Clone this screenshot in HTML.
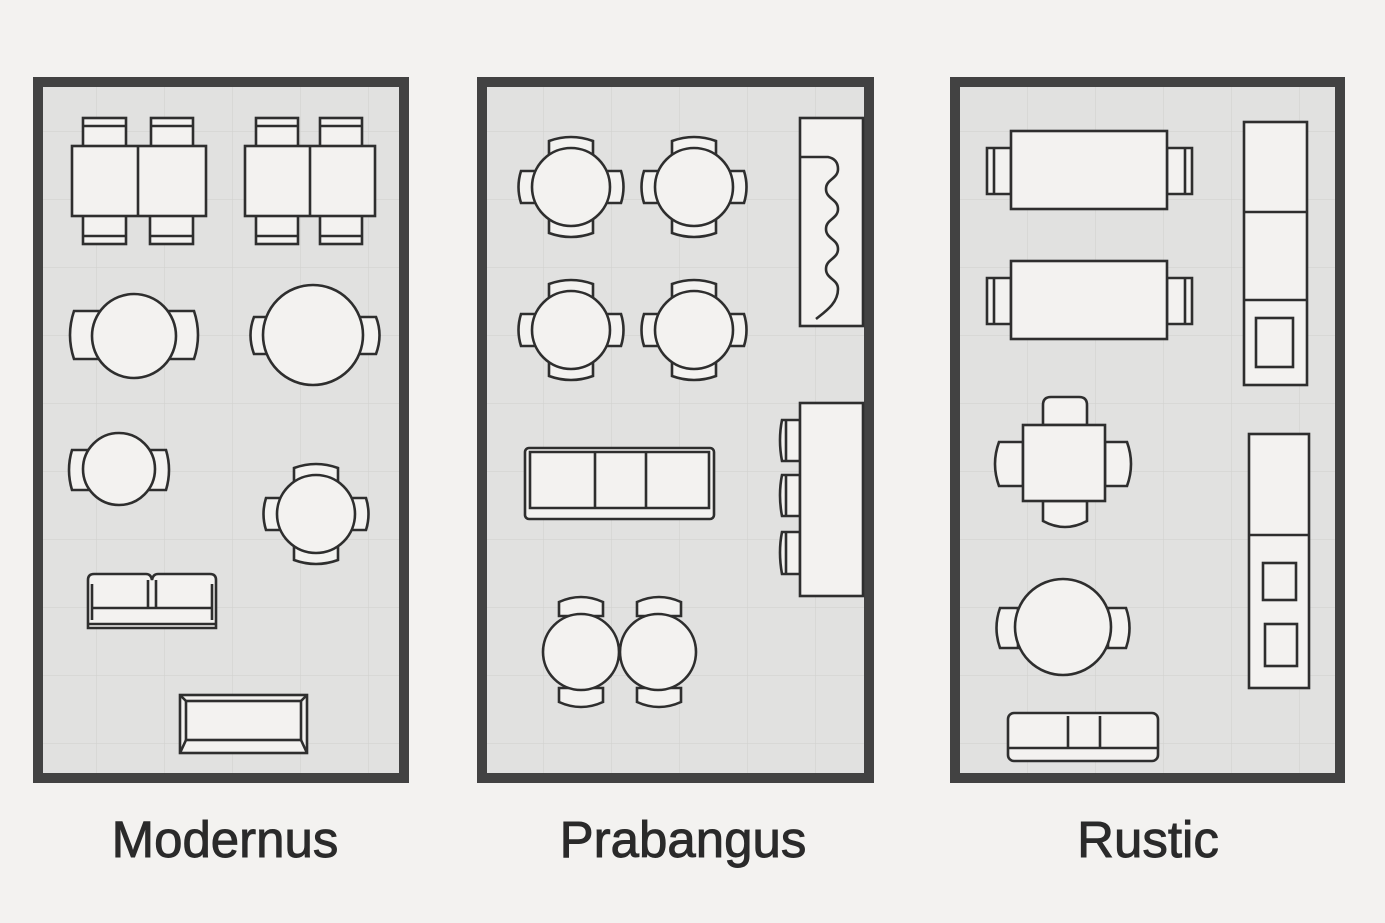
<!DOCTYPE html>
<html><head><meta charset="utf-8"><style>
html,body{margin:0;padding:0;background:#f3f2f0;}
svg{display:block}
text{font-family:"Liberation Sans",sans-serif;font-size:51px;fill:#2a2a2a;stroke:#2a2a2a;stroke-width:0.9px;text-anchor:middle;}
</style></head><body>
<svg width="1385" height="923" viewBox="0 0 1385 923" xmlns="http://www.w3.org/2000/svg">
<defs>
<pattern id="g1" x="29" y="64" width="68" height="68" patternUnits="userSpaceOnUse"><path d="M68,0V68H0" fill="none" stroke="#cfcfcd" stroke-width="1"/></pattern>
<pattern id="g2" x="476" y="64" width="68" height="68" patternUnits="userSpaceOnUse"><path d="M68,0V68H0" fill="none" stroke="#cfcfcd" stroke-width="1"/></pattern>
<pattern id="g3" x="960" y="64" width="68" height="68" patternUnits="userSpaceOnUse"><path d="M68,0V68H0" fill="none" stroke="#cfcfcd" stroke-width="1"/></pattern>
<g id="rt4">
<path d="M-22,-30 v-16 q22,-8 44,0 v16 z"/>
<path d="M-22,30 v16 q22,8 44,0 v-16 z"/>
<path d="M-30,-16 h-20 q-5,16 0,32 h20 z"/>
<path d="M30,-16 h20 q5,16 0,32 h-20 z"/>
<circle r="39"/>
</g>
</defs>
<g stroke="#2e2e2e" stroke-width="2.6" fill="#f3f2f0">
<rect x="38" y="82" width="366" height="696" fill="#e1e1e0" stroke="#424242" stroke-width="10"/>
<rect x="43" y="87" width="356" height="686" fill="url(#g1)" stroke="none"/>
<rect x="482" y="82" width="387" height="696" fill="#e1e1e0" stroke="#424242" stroke-width="10"/>
<rect x="487" y="87" width="377" height="686" fill="url(#g2)" stroke="none"/>
<rect x="955" y="82" width="385" height="696" fill="#e1e1e0" stroke="#424242" stroke-width="10"/>
<rect x="960" y="87" width="375" height="686" fill="url(#g3)" stroke="none"/>

<g>
<rect x="83" y="118" width="43" height="30"/><line x1="83" y1="126" x2="126" y2="126"/>
<rect x="151" y="118" width="42" height="30"/><line x1="151" y1="126" x2="193" y2="126"/>
<rect x="83" y="214" width="43" height="30"/><line x1="83" y1="236" x2="126" y2="236"/>
<rect x="150" y="214" width="43" height="30"/><line x1="150" y1="236" x2="193" y2="236"/>
<rect x="72" y="146" width="134" height="70"/><line x1="138" y1="146" x2="138" y2="216"/>
<rect x="256" y="118" width="42" height="30"/><line x1="256" y1="126" x2="298" y2="126"/>
<rect x="320" y="118" width="42" height="30"/><line x1="320" y1="126" x2="362" y2="126"/>
<rect x="256" y="214" width="42" height="30"/><line x1="256" y1="236" x2="298" y2="236"/>
<rect x="320" y="214" width="42" height="30"/><line x1="320" y1="236" x2="362" y2="236"/>
<rect x="245" y="146" width="130" height="70"/><line x1="310" y1="146" x2="310" y2="216"/>

<path d="M100,311 h-26 q-8,24 0,48 h26 z"/><path d="M168,311 h26 q8,24 0,48 h-26 z"/>
<circle cx="134" cy="336" r="42"/>
<path d="M270,317 h-16 q-7,18 0,37 h16 z"/><path d="M356,317 h20 q7,18 0,37 h-20 z"/>
<circle cx="313" cy="335" r="50"/>
<path d="M92,450 h-20 q-6,20 0,40 h20 z"/><path d="M146,450 h20 q6,20 0,40 h-20 z"/>
<circle cx="119" cy="469" r="36"/>
<use href="#rt4" transform="translate(316,514)"/>

<path d="M88,628 v-48 q0,-6 6,-6 h52 q5,0 6,6 v0 q1,-6 6,-6 h52 q6,0 6,6 v48 z"/>
<path d="M92,620 v-36 M212,620 v-36 M148,608 v-28 M156,608 v-28 M92,608 h120 M88,624 h128"/>
<rect x="180" y="695" width="127" height="58"/>
<rect x="186" y="701" width="115" height="39"/>
<path d="M180,695 l6,6 M307,695 l-6,6 M180,753 l6,-13 M307,753 l-6,-13"/>
</g>

<use href="#rt4" transform="translate(571,187)"/>
<use href="#rt4" transform="translate(694,187)"/>
<use href="#rt4" transform="translate(571,330)"/>
<use href="#rt4" transform="translate(694,330)"/>
<rect x="800" y="118" width="63" height="208"/>
<path d="M801,157 h27 q10,2 10,12 c0,10 -12,10 -12,20 c0,10 12,10 12,20 c0,10 -12,10 -12,20 c0,10 12,10 12,20 c0,10 -12,10 -12,20 c0,10 12,10 12,20 c0,14 -12,22 -22,30" fill="none"/>
<path d="M800,420 h-18 q-4,20 0,41 h18 z M786,420 v41"/>
<path d="M800,475 h-18 q-4,20 0,41 h18 z M786,475 v41"/>
<path d="M800,532 h-18 q-4,20 0,42 h18 z M786,532 v42"/>
<rect x="800" y="403" width="63" height="193"/>
<rect x="525" y="448" width="189" height="71" rx="4"/>
<path d="M530,452 h179 v56 h-179 z M595,452 v56 M646,452 v56"/>
<path d="M559,616 v-14 q22,-10 44,0 v14 z M559,688 v14 q22,10 44,0 v-14 z"/>
<path d="M637,616 v-14 q22,-10 44,0 v14 z M637,688 v14 q22,10 44,0 v-14 z"/>
<circle cx="581" cy="652" r="38"/>
<circle cx="658" cy="652" r="38"/>

<path d="M1011,148 h-24 v46 h24 z M994,148 v46"/><path d="M1167,148 h25 v46 h-25 z M1185,148 v46"/>
<rect x="1011" y="131" width="156" height="78"/>
<path d="M1011,278 h-24 v46 h24 z M994,278 v46"/><path d="M1167,278 h25 v46 h-25 z M1185,278 v46"/>
<rect x="1011" y="261" width="156" height="78"/>
<rect x="1244" y="122" width="63" height="263"/>
<path d="M1244,212 h63 M1244,300 h63"/>
<rect x="1256" y="318" width="37" height="49"/>
<path d="M1043,425 v-20 q0,-8 8,-8 h28 q8,0 8,8 v20 z"/>
<path d="M1043,501 v20 q22,12 44,0 v-20 z"/>
<path d="M1023,442 h-24 q-8,22 0,44 h24 z"/>
<path d="M1105,442 h22 q8,22 0,44 h-22 z"/>
<rect x="1023" y="425" width="82" height="76"/>
<path d="M1018,608 h-18 q-7,20 0,40 h18 z"/><path d="M1108,608 h18 q7,20 0,40 h-18 z"/>
<circle cx="1063" cy="627" r="48"/>
<rect x="1008" y="713" width="150" height="48" rx="6"/>
<path d="M1008,748 h150 M1068,716 v32 M1100,716 v32"/>
<rect x="1249" y="434" width="60" height="254"/>
<path d="M1249,535 h60"/>
<rect x="1263" y="563" width="33" height="37"/>
<rect x="1265" y="624" width="32" height="42"/>
</g>
<text x="225" y="857">Modernus</text>
<text x="683" y="857">Prabangus</text>
<text x="1148" y="857">Rustic</text>
</svg>
</body></html>
